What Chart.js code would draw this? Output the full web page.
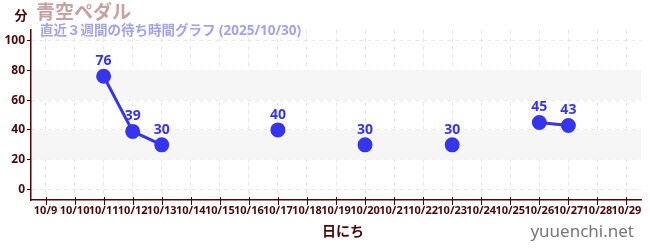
<!DOCTYPE html>
<html>
<head>
<meta charset="utf-8">
<script src="https://cdn.jsdelivr.net/npm/chart.js@4"></script>
<style>
  html, body { margin: 0; padding: 0; background: #fff; }
  #wrap { position: relative; width: 650px; height: 250px; }
</style>
</head>
<body>
<div id="wrap"><canvas id="chart" width="650" height="250"></canvas></div>
<script>
// categories (dates) and wait times in minutes
const days = ['10/9','10/10','10/11','10/12','10/13','10/14','10/15','10/16','10/17','10/18','10/19',
              '10/20','10/21','10/22','10/23','10/24','10/25','10/26','10/27','10/28','10/29'];
const waits = [null, null, 76, 39, 30, null, null, null, 40, null, null,
               30, null, null, 30, null, null, 45, 43, null, null];
const bands = [[20, 40], [60, 80]];

const titleText = '青空ペダル';
const subText = '直近３週間の待ち時間グラフ (2025/10/30)';
const yUnit = '分';
const xTitle = '日にち';
const siteText = 'yuuenchi.net';

const dark = '#4a0808';
const blue = '#3535ee';
const font = '"Noto Sans", "Noto Sans CJK JP", sans-serif';

// shaded bands behind the data
const bandPlugin = {
    id: 'bands',
    beforeDatasetsDraw(chart) {
        const { ctx, chartArea, scales } = chart;
        ctx.save();
        ctx.fillStyle = '#f6f6f6';
        for (let b of bands) {
            let y1 = scales.y.getPixelForValue(b[1]);
            let y0 = scales.y.getPixelForValue(b[0]);
            ctx.fillRect(chartArea.left + 1, y1, chartArea.right - chartArea.left - 1, y0 - y1);
        }
        ctx.restore();
    }
};

// value labels and texts around the chart
const textPlugin = {
    id: 'texts',
    afterDraw(chart) {
        const { ctx, scales } = chart;
        ctx.save();
        // x tick marks crossing the axis line
        ctx.strokeStyle = dark;
        ctx.lineWidth = 1;
        let yb = scales.x.top;
        scales.x.ticks.forEach((t, i) => {
            let x = Math.round(scales.x.getPixelForTick(i)) + 0.5;
            ctx.beginPath();
            ctx.moveTo(x, yb - 3);
            ctx.lineTo(x, yb + 5);
            ctx.stroke();
        });

        ctx.textBaseline = 'middle';
        ctx.fillStyle = blue;
        ctx.textAlign = 'center';
        ctx.font = 'bold 14px ' + font;
        let meta = chart.getDatasetMeta(0);
        meta.data.forEach((p, i) => {
            if (waits[i] == null) return;
            ctx.fillText(String(waits[i]), p.x, p.y - 15);
        });

        ctx.textAlign = 'left';
        ctx.fillStyle = '#c9a0a0';
        ctx.font = 'bold 19px ' + font;
        ctx.fillText(titleText, 36, 14);
        ctx.fillStyle = '#a2a2f2';
        ctx.font = 'bold 13.5px ' + font;
        ctx.fillText(subText, 40, 31);

        ctx.fillStyle = dark;
        ctx.font = 'bold 13px ' + font;
        ctx.textAlign = 'center';
        ctx.fillText(yUnit, 21, 16);
        ctx.font = 'bold 14px ' + font;
        ctx.fillText(xTitle, 343, 232);

        ctx.fillStyle = '#777777';
        ctx.font = '17px ' + font;
        ctx.textAlign = 'right';
        ctx.fillText(siteText, 634, 232);
        ctx.restore();
    }
};

const ctx = document.getElementById('chart');
const chart = new Chart(ctx, {
    type: 'line',
    data: {
        labels: days,
        datasets: [{
            data: waits,
            borderColor: blue,
            backgroundColor: blue,
            borderWidth: 3,
            pointRadius: 6,
            pointHoverRadius: 6,
            spanGaps: false,
            tension: 0
        }]
    },
    options: {
        responsive: false,
        animation: false,
        layout: { padding: { top: 30, right: 8, left: 0, bottom: 0 } },
        plugins: {
            legend: { display: false },
            tooltip: { enabled: false },
            title: { display: false }
        },
        scales: {
            x: {
                offset: true,
                border: { color: dark, width: 1.5, dash: [4, 4] },
                grid: {
                    color: '#e8e8e8',
                    tickColor: 'rgba(0,0,0,0)',
                    tickLength: 5,
                    offset: false
                },
                ticks: {
                    autoSkip: false,
                    maxRotation: 0,
                    minRotation: 0,
                    padding: -1,
                    color: dark,
                    font: { family: font, size: 11, weight: 'bold' }
                },
                afterFit(scale) { scale.height = 50; }
            },
            y: {
                min: -7,
                max: 107,
                border: { color: dark, width: 1.5, dash: [4, 4] },
                afterBuildTicks(scale) {
                    let t = [];
                    for (let v = 0; v <= 100; v += 10) t.push({ value: v });
                    scale.ticks = t;
                },
                grid: {
                    color: (c) => (c.tick && c.tick.value % 20 === 0) ? '#e6e6e6' : 'rgba(0,0,0,0)',
                    tickColor: (c) => (c.tick && c.tick.value % 20 === 0) ? dark : '#d02020',
                    tickLength: 4
                },
                ticks: {
                    padding: 2,
                    color: dark,
                    font: { family: font, size: 12, weight: 'bold' },
                    callback: (v) => (v % 20 === 0 ? String(v) : '')
                },
                afterFit(scale) { scale.width = 31; }
            }
        }
    },
    plugins: [bandPlugin, textPlugin]
});
</script>
</body>
</html>
